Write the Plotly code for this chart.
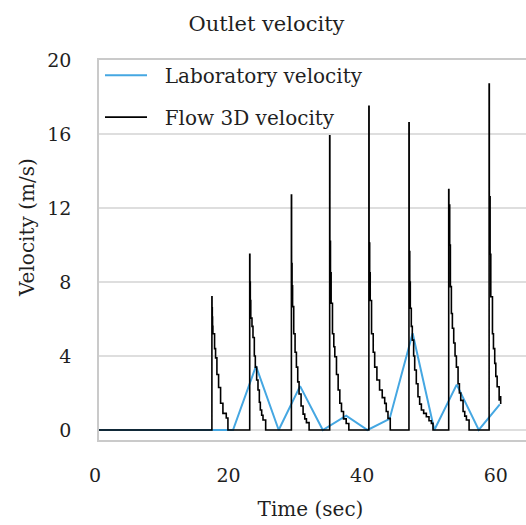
import plotly.graph_objects as go

# Laboratory velocity (sampled points)
lab_t = [0, 3.4, 6.9, 10.3, 13.8, 17.2, 20.66, 24.1, 27.5, 30.7, 34.1, 37.6, 40.8, 44.1, 47.55, 50.8, 54.15, 57.45, 60.6]
lab_v = [0, 0, 0, 0, 0, 0, 0, 3.45, 0, 2.37, 0, 0.78, 0, 0.6, 5.23, 0, 2.45, 0, 1.38]

# Flow 3D velocity (step-wise simulation output)
flow_t = [0,
          17.5, 17.52, 17.56, 17.6, 17.65, 17.9, 18.05, 18.25, 18.5, 18.8, 19.15, 19.65, 19.9,
          23.16, 23.19, 23.25, 23.32, 23.5, 23.65, 23.85, 24.0, 24.2, 24.4, 24.6, 24.75, 24.95, 25.15, 25.55,
          29.4, 29.43, 29.5, 29.58, 29.75, 29.95, 30.15, 30.35, 30.55, 30.85, 31.15, 31.4, 31.65, 32.05,
          35.13, 35.16, 35.25, 35.35, 35.55, 35.75, 35.9, 36.15, 36.4, 36.65, 36.9, 37.2, 37.6, 38.0,
          41.0, 41.03, 41.12, 41.2, 41.4, 41.65, 41.87, 42.2, 42.6, 43.0, 43.37, 43.6, 43.86, 44.2,
          47.0, 47.03, 47.12, 47.2, 47.35, 47.5, 47.7, 47.86, 48.1, 48.35, 48.6, 48.86, 49.2, 49.6, 50.0, 50.36, 50.6,
          52.95, 52.98, 53.1, 53.2, 53.35, 53.5, 53.7, 53.9, 54.1, 54.35, 54.55, 54.75, 55.1, 55.35, 55.6, 56.0,
          59.0, 59.03, 59.15, 59.25, 59.5, 59.65, 59.84, 60.0, 60.2, 60.5, 60.6, 60.73]
flow_v = [0,
          7.2, 6.6, 6.1, 5.6, 5.2, 4.4, 3.9, 3.0, 2.3, 1.45, 0.9, 0.65, 0,
          9.5, 8.0, 7.0, 6.05, 5.6, 5.0, 4.0, 3.4, 2.7, 2.16, 1.5, 1.08, 0.8, 0.54, 0,
          12.7, 9.0, 7.8, 6.67, 5.2, 4.2, 3.4, 2.6, 1.95, 1.3, 0.86, 0.6, 0.4, 0,
          15.9, 10.2, 8.5, 6.85, 5.2, 4.5, 3.96, 3.0, 2.16, 1.45, 1.0, 0.6, 0.35, 0,
          17.5, 10.1, 8.5, 7.0, 5.2, 4.2, 3.4, 2.7, 2.16, 1.75, 1.44, 1.0, 0.63, 0,
          16.6, 9.64, 8.0, 6.58, 5.6, 4.86, 4.0, 3.24, 2.5, 1.8, 1.4, 1.08, 0.9, 0.72, 0.5, 0.36, 0,
          13.0, 12.16, 10.0, 7.75, 6.3, 5.5, 4.7, 4.0, 3.4, 2.5, 2.0, 1.6, 1.0, 0.75, 0.54, 0,
          18.7, 12.6, 9.5, 7.2, 5.2, 4.4, 3.6, 2.9, 2.34, 1.62, 1.8, 1.4]

x_ticks = [0, 20, 40, 60]
y_ticks = [0, 4, 8, 12, 16, 20]
series_names = ["Laboratory velocity", "Flow 3D velocity"]

FONT = "DejaVu Serif"
TXT = "#1f1f1f"
PAD = "\u00a0\u00a0"

fig = go.Figure()
fig.add_trace(go.Scatter(x=lab_t, y=lab_v, name=PAD + series_names[0], mode="lines",
                         line=dict(color="#45a7e2", width=2), legendgroup="a"))
fig.add_trace(go.Scatter(x=flow_t, y=flow_v, name=PAD + series_names[1], mode="lines",
                         line=dict(color="black", width=1.6, shape="hv"), legendgroup="b"))
# helper trace for the tick-label axis
fig.add_trace(go.Scatter(x=[0], y=[0], xaxis="x2", yaxis="y2", mode="markers",
                         marker=dict(opacity=0), showlegend=False, hoverinfo="skip"))

W, H = 526, 525
ML, MR, MT, MB = 95, 0, 60, 85
pw = W - ML - MR
pxu = 6.68
fig.update_layout(
    width=W, height=H,
    margin=dict(l=ML, r=MR, t=MT, b=MB),
    paper_bgcolor="white", plot_bgcolor="rgba(0,0,0,0)",
    font=dict(family=FONT, color=TXT, size=19),
    title=dict(text="Outlet velocity", x=266.5 / W, xref="container", xanchor="center",
               y=1 - 24 / H, yref="container", yanchor="middle",
               font=dict(family=FONT, size=21, color=TXT)),
    xaxis=dict(domain=[4 / pw, 1], range=[4 / pxu, pw / pxu], showgrid=False, zeroline=False,
               showticklabels=False, ticks="", showline=True, mirror=True,
               linecolor="#cacaca", linewidth=1.5),
    yaxis=dict(range=[-0.54, 20], tickvals=y_ticks, showgrid=True, gridcolor="#dedede",
               gridwidth=1.5, zeroline=False, showline=True, linecolor="#cacaca", linewidth=1.5,
               ticks="", ticklabelstandoff=22, tickfont=dict(size=19, family=FONT, color=TXT)),
    xaxis2=dict(domain=[0, 1], anchor="y2", range=[0, pw / pxu], tickvals=x_ticks,
                showgrid=False, zeroline=False, showline=False, ticks="",
                ticklabelstandoff=22, tickfont=dict(size=19, family=FONT, color=TXT),
                title=dict(text="Time (sec)", standoff=16, font=dict(size=20, family=FONT, color=TXT))),
    yaxis2=dict(domain=[0, 1], anchor="x2", range=[-0.54, 20], visible=False),
    legend=dict(x=5 / pw, xanchor="left", y=1.0115, yanchor="top", bgcolor="rgba(0,0,0,0)",
                font=dict(size=20, family=FONT, color=TXT), itemwidth=42, tracegroupgap=13,
                traceorder="grouped"),
    annotations=[dict(text="Velocity (m/s)", textangle=-90, xref="paper", yref="paper",
                      x=(27 - ML) / pw, y=1 - (228 - MT) / (H - MT - MB), xanchor="center",
                      yanchor="middle", showarrow=False, font=dict(size=20, family=FONT, color=TXT))],
)

fig.write_html("out.html")
